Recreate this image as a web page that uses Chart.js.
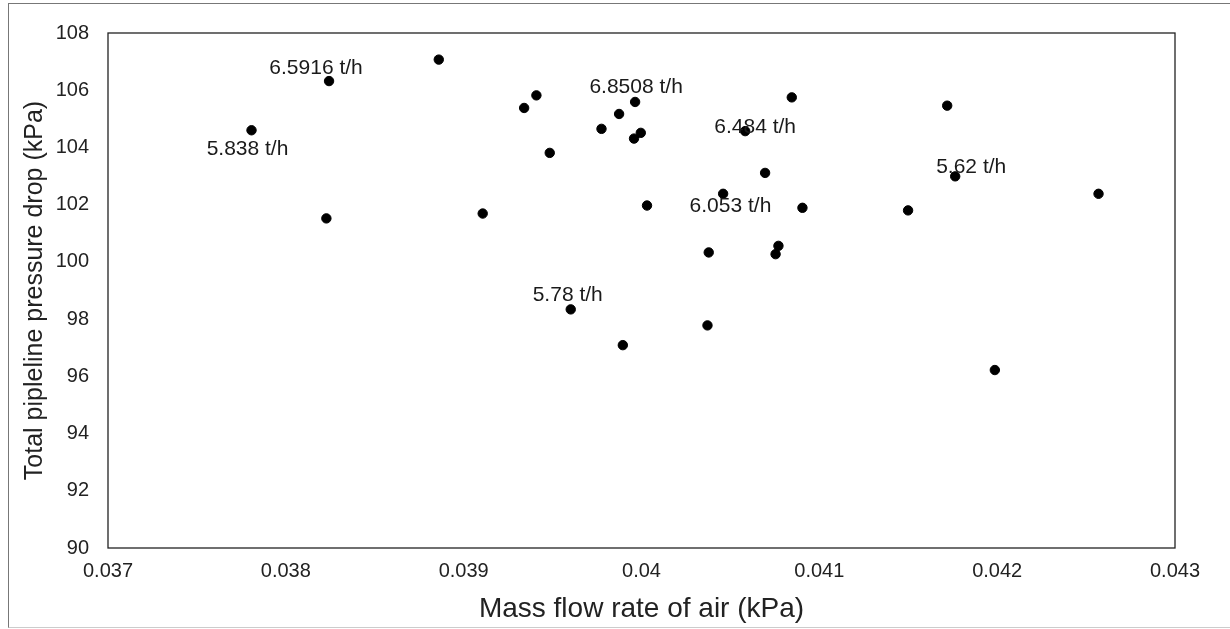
<!DOCTYPE html>
<html>
<head>
<meta charset="utf-8">
<script src="https://cdn.jsdelivr.net/npm/chart.js@4.4.0/dist/chart.umd.min.js"></script>
<style>
  html, body { margin: 0; padding: 0; background: #fff; }
  #wrap { position: relative; width: 1230px; height: 629px; overflow: hidden; }
  #frame { position: absolute; left: 8px; top: 3px; width: 1230px; height: 623px;
           border-left: 1px solid #777; border-top: 1px solid #777; border-bottom: 1px solid #ccc; }
  canvas { position: absolute; left: 0; top: 0; }
</style>
</head>
<body>
<div id="wrap">
  <div id="frame"></div>
  <canvas id="chart" width="1230" height="629"></canvas>
</div>
<script>
// mass flow rate of air vs total pipeline pressure drop
const massFlow = [
  0.037807, 0.038243, 0.038228, 0.038860, 0.039409, 0.039340, 0.039484, 0.039775,
  0.039874, 0.039964, 0.039996, 0.039958, 0.040031, 0.039107, 0.040583, 0.040845,
  0.040695, 0.040459, 0.040905, 0.040378, 0.040770, 0.040754, 0.039602, 0.040371,
  0.039895, 0.041987, 0.041719, 0.041764, 0.041499, 0.042570
];
const pressureDrop = [
  104.60, 106.32, 101.52, 107.07, 105.82, 105.38, 103.81, 104.65,
  105.17, 105.59, 104.51, 104.31, 101.97, 101.69, 104.57, 105.75,
  103.11, 102.38, 101.89, 100.33, 100.56, 100.27, 98.34, 97.78,
  97.09, 96.22, 105.46, 102.99, 101.80, 102.38
];
// solids flow labels (empty = no label)
const flowLabels = [
  '5.838 t/h', '6.5916 t/h', '', '', '', '', '', '',
  '', '6.8508 t/h', '', '', '', '', '6.484 t/h', '',
  '', '', '6.053 t/h', '', '', '', '5.78 t/h', '',
  '', '', '', '5.62 t/h', '', ''
];
const xTicks = [0.037, 0.038, 0.039, 0.040, 0.041, 0.042, 0.043];
const xTickLabels = ['0.037', '0.038', '0.039', '0.04', '0.041', '0.042', '0.043'];
const yTicks = [90, 92, 94, 96, 98, 100, 102, 104, 106, 108];

const points = massFlow.map((x, i) => ({ x, y: pressureDrop[i] }));

// where each label's centre sits relative to its point, px
const labelShift = {
  '5.838 t/h':  [-4, 19],
  '6.5916 t/h': [-13, -13],
  '6.8508 t/h': [1, -15],
  '6.484 t/h':  [10, -4],
  '6.053 t/h':  [-72, -2],
  '5.78 t/h':   [-3, -14],
  '5.62 t/h':   [16, -9]
};

const FONT = '"Liberation Sans", Arial, sans-serif';

const frameBox = {
  id: 'frameBox',
  afterDraw(chart) {
    const { ctx, chartArea: a } = chart;
    ctx.save();
    ctx.strokeStyle = '#222';
    ctx.lineWidth = 1.3;
    ctx.strokeRect(a.left, a.top, a.right - a.left, a.bottom - a.top);
    ctx.restore();
  }
};

const pointLabels = {
  id: 'pointLabels',
  afterDatasetsDraw(chart) {
    const { ctx } = chart;
    const meta = chart.getDatasetMeta(0);
    ctx.save();
    ctx.font = '21px ' + FONT;
    ctx.fillStyle = '#1a1a1a';
    ctx.textAlign = 'center';
    ctx.textBaseline = 'middle';
    meta.data.forEach((el, i) => {
      const txt = flowLabels[i];
      if (!txt) return;
      const [dx, dy] = labelShift[txt] || [0, -14];
      ctx.fillText(txt, el.x + dx, el.y + dy);
    });
    ctx.restore();
  }
};

new Chart(document.getElementById('chart'), {
  type: 'scatter',
  data: {
    datasets: [{
      data: points,
      backgroundColor: '#000',
      borderColor: '#000',
      pointRadius: 4.7,
      pointHoverRadius: 4.7
    }]
  },
  options: {
    responsive: false,
    animation: false,
    layout: { padding: { left: 10, top: 33, right: 55, bottom: 0 } },
    plugins: { legend: { display: false }, tooltip: { enabled: false } },
    scales: {
      x: {
        type: 'linear',
        min: 0.037, max: 0.043,
        afterBuildTicks: s => { s.ticks = xTicks.map(v => ({ value: v })); },
        afterFit: s => { s.height = 81; },
        grid: { display: false, drawTicks: false },
        border: { display: false },
        ticks: {
          padding: 11,
          color: '#222',
          font: { family: FONT, size: 20 },
          callback: (v, i) => xTickLabels[i]
        },
        title: {
          display: true,
          text: 'Mass flow rate of air (kPa)',
          color: '#222',
          font: { family: FONT, size: 28 },
          padding: { top: 0, bottom: 3 }
        }
      },
      y: {
        type: 'linear',
        min: 90, max: 108,
        afterBuildTicks: s => { s.ticks = yTicks.map(v => ({ value: v })); },
        afterFit: s => { s.width = 98; },
        grid: { display: false, drawTicks: false },
        border: { display: false },
        ticks: {
          padding: 19,
          color: '#222',
          font: { family: FONT, size: 20 }
        },
        title: {
          display: true,
          text: 'Total pipleline pressure drop (kPa)',
          color: '#222',
          font: { family: FONT, size: 25 },
          padding: { top: 10, bottom: 0 }
        }
      }
    }
  },
  plugins: [frameBox, pointLabels]
});
</script>
</body>
</html>
